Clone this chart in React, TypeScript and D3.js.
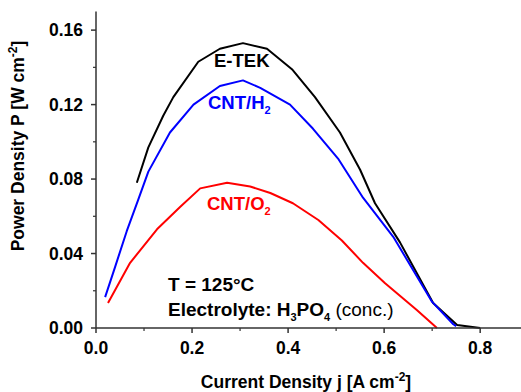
import React from 'react';
import * as d3 from 'd3';

const etekJ = [0.085, 0.109, 0.14, 0.161, 0.213, 0.258, 0.306, 0.356, 0.408, 0.456, 0.508, 0.55, 0.581, 0.633, 0.702, 0.752, 0.8];
const etekP = [0.078, 0.097, 0.114, 0.124, 0.143, 0.150, 0.153, 0.150, 0.139, 0.124, 0.105, 0.085, 0.067, 0.046, 0.0134, 0.0016, 0];

const h2J = [0.019, 0.04, 0.064, 0.088, 0.109, 0.154, 0.203, 0.258, 0.306, 0.342, 0.404, 0.452, 0.504, 0.556, 0.619, 0.70, 0.744, 0.75];
const h2P = [0.0166, 0.033, 0.052, 0.069, 0.084, 0.105, 0.120, 0.130, 0.133, 0.129, 0.120, 0.107, 0.091, 0.070, 0.049, 0.014, 0.002, 0.001];

const o2J = [0.025, 0.071, 0.127, 0.175, 0.217, 0.273, 0.321, 0.363, 0.41, 0.463, 0.512, 0.556, 0.602, 0.668, 0.71];
const o2P = [0.0134, 0.035, 0.053, 0.065, 0.075, 0.078, 0.076, 0.0725, 0.067, 0.058, 0.047, 0.035, 0.024, 0.0097, 0];

const xTicks = [0, 0.2, 0.4, 0.6, 0.8];
const xMinor = [0.1, 0.3, 0.5, 0.7];
const yTicks = [0, 0.04, 0.08, 0.12, 0.16];
const yMinor = [0.02, 0.06, 0.1, 0.14];

const W = 521;
const H = 392;
const FONT = 'Liberation Sans, Arial, sans-serif';

export default function App() {
  const x = d3.scaleLinear().domain([0, 0.885]).range([96, 521]);
  const y = d3.scaleLinear().domain([0, 0.17]).range([328, 11.5]);

  const line = d3.line<number[]>().x(d => d[0]).y(d => d[1]);
  const path = (js: number[], ps: number[]) =>
    line(js.map((j, i) => [x(j), y(ps[i])])) as string;

  const series = [
    { j: etekJ, p: etekP, color: '#000000' },
    { j: h2J, p: h2P, color: '#0000ff' },
    { j: o2J, p: o2P, color: '#ff0000' },
  ];

  const axisColor = '#333';

  return (
    <svg width={W} height={H} style={{ position: 'absolute', left: 0, top: 0, background: '#fff' }}
      fontFamily={FONT}>
      {series.map((s, i) => (
        <path key={i} d={path(s.j, s.p)} fill="none" stroke={s.color} strokeWidth={2} strokeLinejoin="round" />
      ))}

      {/* axes */}
      <line x1={x(0)} x2={x(0.885)} y1={y(0)} y2={y(0)} stroke={axisColor} strokeWidth={1.5} />
      <line x1={x(0)} x2={x(0)} y1={y(0)} y2={y(0.17)} stroke={axisColor} strokeWidth={1.5} />
      {xTicks.map(t => (
        <g key={'x' + t}>
          <line x1={x(t)} x2={x(t)} y1={y(0)} y2={y(0) + 5} stroke={axisColor} strokeWidth={1.5} />
          <text x={x(t)} y={354} textAnchor="middle" fontSize={17.5} fontWeight="bold">{t.toFixed(1)}</text>
        </g>
      ))}
      {xMinor.map(t => (
        <line key={'xm' + t} x1={x(t)} x2={x(t)} y1={y(0)} y2={y(0) + 3} stroke={axisColor} strokeWidth={1.2} />
      ))}
      {yTicks.map(t => (
        <g key={'y' + t}>
          <line x1={x(0) - 5} x2={x(0)} y1={y(t)} y2={y(t)} stroke={axisColor} strokeWidth={1.5} />
          <text x={83} y={y(t) + 6} textAnchor="end" fontSize={17.5} fontWeight="bold">{t.toFixed(2)}</text>
        </g>
      ))}
      {yMinor.map(t => (
        <line key={'ym' + t} x1={x(0) - 3} x2={x(0)} y1={y(t)} y2={y(t)} stroke={axisColor} strokeWidth={1.2} />
      ))}

      {/* axis titles */}
      <text x={306} y={388} textAnchor="middle" fontSize={17.5} fontWeight="bold">
        Current Density j [A cm<tspan dy={-7} fontSize={12}>-2</tspan><tspan dy={7}>]</tspan>
      </text>
      <text transform="translate(24,146) rotate(-90)" textAnchor="middle" fontSize={17.5} fontWeight="bold">
        Power Density P [W cm<tspan dy={-7} fontSize={12}>-2</tspan><tspan dy={7}>]</tspan>
      </text>

      {/* series labels */}
      <text x={214} y={67} fontSize={18.5} fontWeight="bold" fill="#000">E-TEK</text>
      <text x={208} y={109} fontSize={18.5} fontWeight="bold" fill="#0000ff">
        CNT/H<tspan dy={5} fontSize={11}>2</tspan>
      </text>
      <text x={207} y={210} fontSize={18.5} fontWeight="bold" fill="#ff0000">
        CNT/O<tspan dy={5} fontSize={11}>2</tspan>
      </text>

      <text x={168} y={291} fontSize={19} fontWeight="bold">T = 125°C</text>
      <text x={168} y={316} fontSize={19}>
        <tspan fontWeight="bold">Electrolyte: H</tspan>
        <tspan fontWeight="bold" dy={5} fontSize={11}>3</tspan>
        <tspan fontWeight="bold" dy={-5}>PO</tspan>
        <tspan fontWeight="bold" dy={5} fontSize={11}>4</tspan>
        <tspan dy={-5}> (conc.)</tspan>
      </text>
    </svg>
  );
}
